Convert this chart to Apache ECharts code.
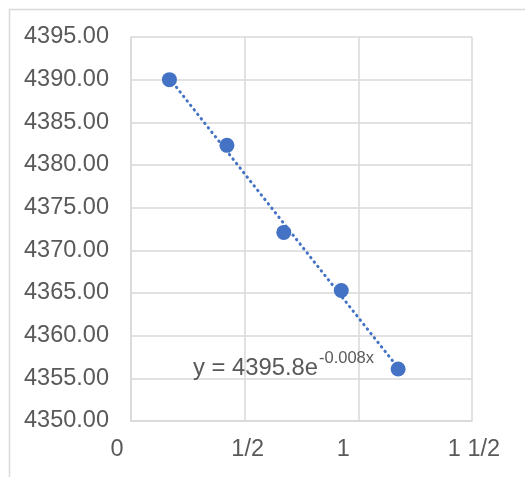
<!DOCTYPE html>
<html>
<head>
<meta charset="utf-8">
<script src="https://cdn.jsdelivr.net/npm/echarts@6/dist/echarts.min.js"></script>
<style>html,body{margin:0;padding:0;background:#fff}#c{width:525px;height:477px}</style>
</head>
<body>
<div id="c"></div>
<script>
// Data
const xValues = [0.169, 0.422, 0.672, 0.925, 1.175];
const yValues = [4390.0, 4382.3, 4372.1, 4365.3, 4356.1];
const xTicks = [0, 0.5, 1, 1.5];
const xTickLabels = ['0', '1/2', '1', '1 1/2'];
const equationMain = 'y = 4395.8e';
const equationSup = '-0.008x';

// Exponential trendline fitted to the data (least squares on ln y)
function expFit(xs, ys) {
  const n = xs.length;
  let sx = 0, sy = 0, sxx = 0, sxy = 0;
  for (let i = 0; i < n; i++) {
    const ly = Math.log(ys[i]);
    sx += xs[i]; sy += ly; sxx += xs[i] * xs[i]; sxy += xs[i] * ly;
  }
  const b = (n * sxy - sx * sy) / (n * sxx - sx * sx);
  const a = Math.exp((sy - b * sx) / n);
  return { a, b };
}
const fit = expFit(xValues, yValues);
const xMin = Math.min(...xValues), xMax = Math.max(...xValues);
const trend = [];
for (let i = 0; i <= 20; i++) {
  const x = xMin + (xMax - xMin) * i / 20;
  trend.push([x, fit.a * Math.exp(fit.b * x)]);
}
const points = xValues.map((x, i) => [x, yValues[i]]);

const chart = echarts.init(document.getElementById('c'), null, { renderer: 'canvas' });
const font = '"Liberation Sans", Arial, sans-serif';
const labelColor = '#595959';
chart.setOption({
  backgroundColor: '#ffffff',
  animation: false,
  grid: { left: 131, top: 37, right: 53, bottom: 56, containLabel: false },
  xAxis: {
    type: 'value', min: 0, max: 1.5, interval: 0.5,
    axisLine: { show: true, lineStyle: { color: '#d9d9d9', width: 1.5 } },
    axisTick: { show: false },
    splitLine: { show: true, lineStyle: { color: '#d9d9d9', width: 1.5 } },
    axisLabel: {
      margin: 17,
      color: labelColor, fontFamily: font, fontSize: 23.5,
      formatter: function (v) {
        const idx = xTicks.findIndex(t => Math.abs(t - v) < 1e-9);
        const s = idx >= 0 ? xTickLabels[idx] : '';
        if (Math.abs(v) < 1e-9) return '{z|' + s + '}';
        if (Math.abs(v - 0.5) < 1e-9) return '{h|' + s + '}';
        if (Math.abs(v - 1) < 1e-9) return '{o|' + s + '}';
        return '{f|' + s + '}';
      },
      rich: {
        z: { color: labelColor, fontFamily: font, fontSize: 23.5, padding: [0, 28, 0, 0] },
        h: { color: labelColor, fontFamily: font, fontSize: 23.5, padding: [0, 0, 0, 6] },
        o: { color: labelColor, fontFamily: font, fontSize: 23.5, padding: [0, 30, 0, 0] },
        f: { color: labelColor, fontFamily: font, fontSize: 23.5, padding: [0, 0, 0, 4] }
      }
    }
  },
  yAxis: {
    type: 'value', min: 4350, max: 4395, interval: 5,
    axisLine: { show: true, lineStyle: { color: '#d9d9d9', width: 1.5 } },
    axisTick: { show: false },
    splitLine: { show: true, lineStyle: { color: '#d9d9d9', width: 1.5 } },
    axisLabel: {
      margin: 22, color: labelColor, fontFamily: font, fontSize: 23.5,
      formatter: v => v.toFixed(2)
    }
  },
  series: [
    {
      type: 'line', data: trend, symbol: 'none', silent: true, z: 2,
      lineStyle: { color: '#4472C4', width: 3, type: [0.5, 5.2], cap: 'round' }
    },
    {
      type: 'scatter', data: points, symbol: 'circle', symbolSize: 15, z: 3,
      itemStyle: { color: '#4472C4', opacity: 1 }
    }
  ],
  graphic: [
    {
      type: 'rect', left: 7, top: 7, silent: true, z: -1,
      shape: { width: 530, height: 480 },
      style: { fill: 'none', stroke: '#d9d9d9', lineWidth: 1.5 }
    },
    {
      type: 'text', left: 193, top: 356, z: 10,
      style: { text: equationMain, fill: labelColor, fontFamily: font, fontSize: 23.8 }
    },
    {
      type: 'text', left: 319, top: 350, z: 10,
      style: { text: equationSup, fill: labelColor, fontFamily: font, fontSize: 16.5 }
    }
  ]
});
</script>
</body>
</html>
